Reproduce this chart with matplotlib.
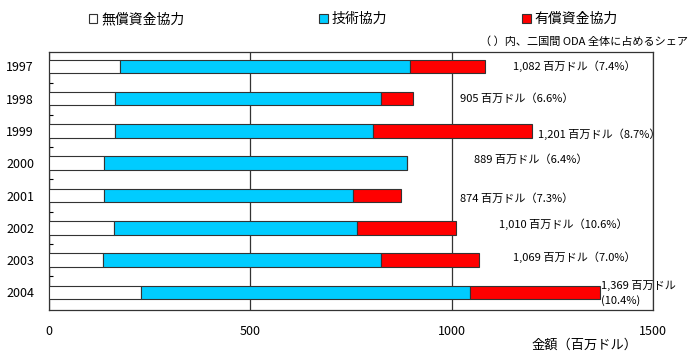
import numpy as np
import matplotlib.pyplot as plt

plt.rcParams['font.family'] = ['Noto Sans CJK JP', 'DejaVu Sans']

years = ['1997', '1998', '1999', '2000', '2001', '2002', '2003', '2004']
grant = [175, 163, 164, 136, 136, 161, 134, 229]
tech = [721, 661, 641, 753, 619, 604, 690, 816]
loan = [186, 81, 396, 0, 119, 245, 245, 324]
totals = ['1,082', '905', '1,201', '889', '874', '1,010', '1,069', '1,369']
shares = ['7.4', '6.6', '8.7', '6.4', '7.3', '10.6', '7.0', '10.4']

# where each total label starts (data units), as placed in the original
label_x = [1152, 1022, 1216, 1055, 1022, 1119, 1152, 1372]
label_dy = [0, 0, 0.1, -0.1, 0.1, -0.1, -0.1, 0]

fig = plt.figure(figsize=(7, 3.6), dpi=100)
ax = fig.add_axes([0.0704, 0.1389, 0.8620, 0.7175])

y = np.arange(len(years))
grant = np.array(grant)
tech = np.array(tech)
loan = np.array(loan)

h = 0.42
b1 = ax.barh(y, grant, height=h, color='white', edgecolor='#333333', linewidth=0.8, zorder=3)
b2 = ax.barh(y, tech, left=grant, height=h, color='#00CCFF', edgecolor='#333333', linewidth=0.8, zorder=3)
b3 = ax.barh(y, loan, left=grant + tech, height=h, color='#FF0000', edgecolor='#333333', linewidth=0.8, zorder=3)

for i in range(len(years)):
    if i == len(years) - 1:
        ax.text(label_x[i], y[i] - 0.22, f'{totals[i]} 百万ドル', fontsize=8, va='center', ha='left')
        ax.text(label_x[i], y[i] + 0.25, f'({shares[i]}%)', fontsize=8, va='center', ha='left')
    else:
        ax.text(label_x[i], y[i] + label_dy[i], f'{totals[i]} 百万ドル（{shares[i]}%）',
                fontsize=8, va='center', ha='left')

ax.set_xlim(0, 1500)
ax.set_ylim(len(years) - 0.455, -0.455)
ax.set_xticks([0, 500, 1000, 1500])
ax.set_yticks(y)
ax.set_yticklabels(years)
ax.set_yticks(y[:-1] + 0.5, minor=True)
ax.tick_params(axis='x', length=0, pad=11, labelsize=9)
ax.tick_params(axis='y', which='major', length=0, pad=11, labelsize=9)
ax.tick_params(axis='y', which='minor', length=3, direction='in', width=0.8)
ax.xaxis.grid(True, color='#333333', linewidth=0.9, zorder=0)
ax.set_axisbelow(True)
for s in ax.spines.values():
    s.set_color('#333333')
    s.set_linewidth(0.9)

fig.text(637 / 700, 1 - 345 / 360, '金額（百万ドル）', fontsize=9.5, ha='right', va='center')
fig.text(688 / 700, 1 - 42 / 360, '（ ）内、二国間 ODA 全体に占めるシェア', fontsize=8, ha='right', va='center')

fig.legend([b1, b2, b3], ['無償資金協力', '技術協力', '有償資金協力'],
           loc='center left', bbox_to_anchor=(89 / 700, 1 - 19 / 360), ncol=3, frameon=False,
           fontsize=10, handlelength=0.6, handleheight=0.6, handletextpad=0.3,
           columnspacing=9.7, borderaxespad=0, borderpad=0)

fig.savefig('out.png', dpi=100)
